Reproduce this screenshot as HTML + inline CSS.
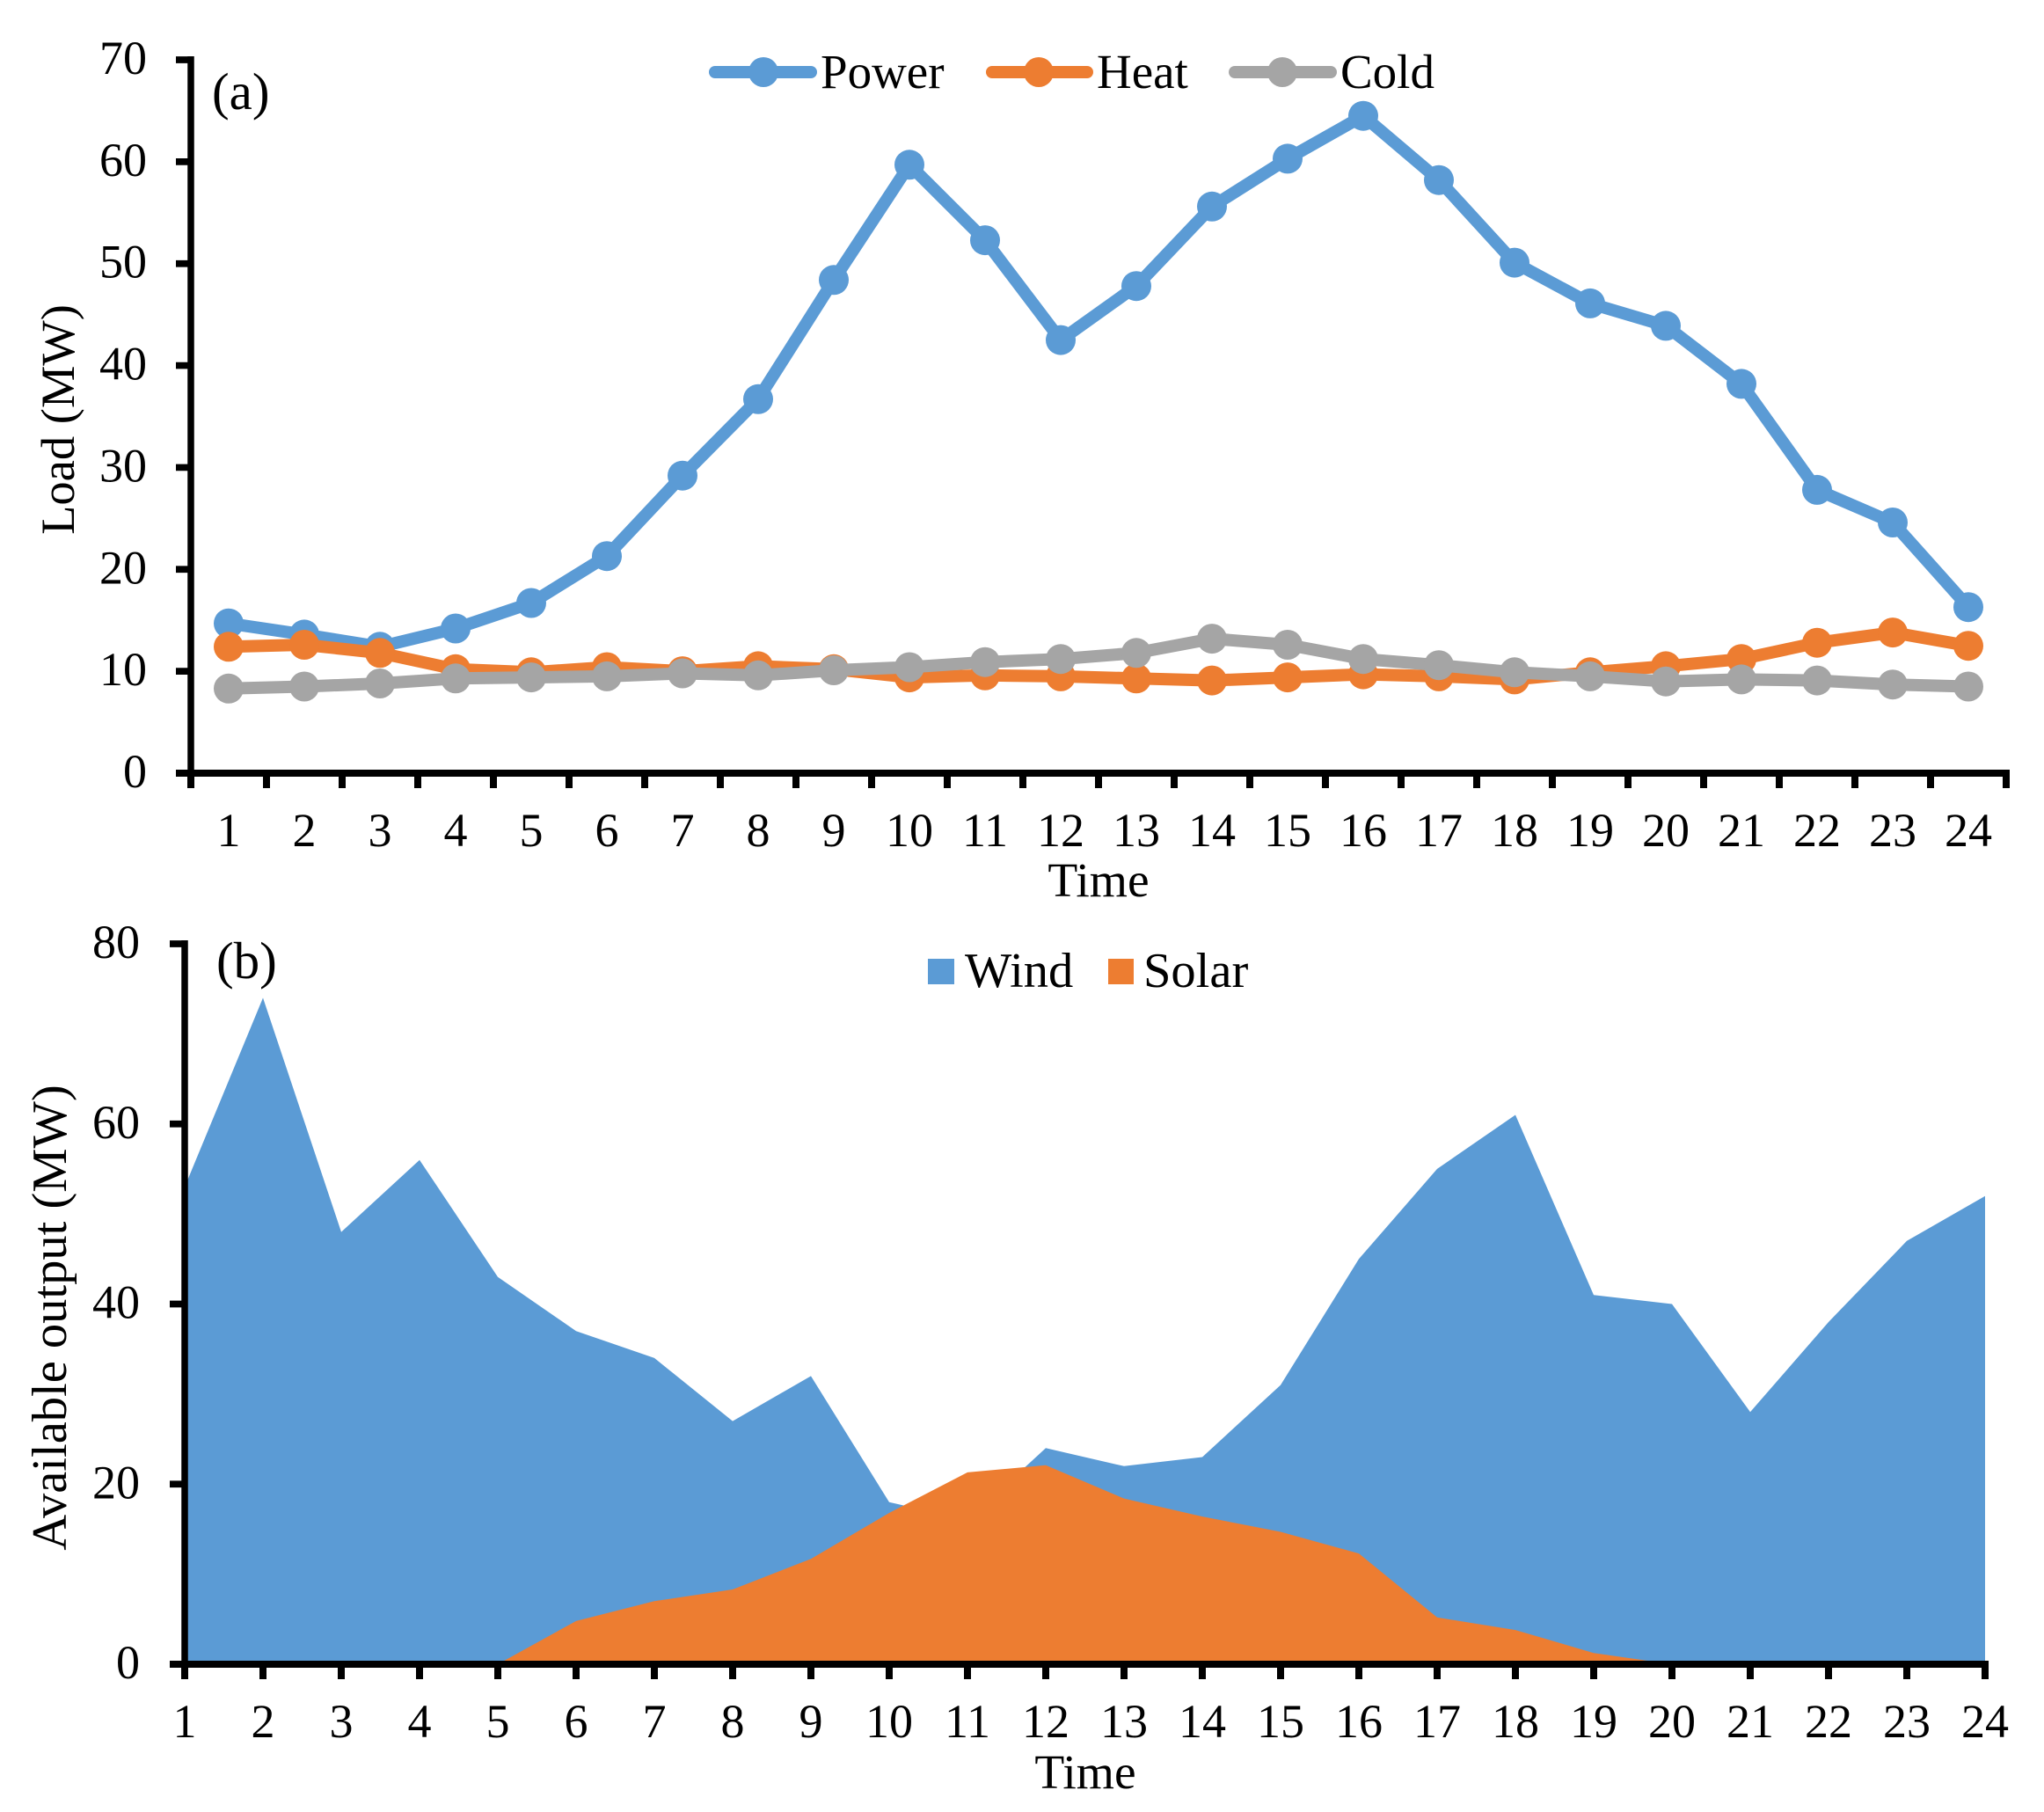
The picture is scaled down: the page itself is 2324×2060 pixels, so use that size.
<!DOCTYPE html>
<html lang="en">
<head>
<meta charset="utf-8">
<title>Load and available output over 24 hours</title>
<style>
  html, body { margin: 0; padding: 0; background: #fff; }
  svg { display: block; }
  text { font-family: "Liberation Serif", "Times New Roman", serif; fill: #000; font-size: 54px; }
</style>
</head>
<body>
<svg id="figure" xmlns="http://www.w3.org/2000/svg" width="2324" height="2060" viewBox="0 0 2324 2060">
  <rect x="0" y="0" width="2324" height="2060" fill="#fff"/>

  <g id="panel-a">
    <g id="a-series"></g>
    <g id="a-axes"></g>
    <text x="241" y="124" style="font-size:59px">(a)</text>
    <text transform="translate(84 477) rotate(-90)" text-anchor="middle" style="font-size:54.5px">Load (MW)</text>
    <text x="1249" y="1019" text-anchor="middle" style="font-size:55.5px">Time</text>
    <g>
      <g>
        <line x1="813" y1="82" x2="922" y2="82" stroke="#5B9BD5" stroke-width="14" stroke-linecap="round"/>
        <circle cx="868" cy="82" r="17" fill="#5B9BD5"/>
        <text x="933" y="100" style="font-size:55px">Power</text>
      </g>
      <g>
        <line x1="1128" y1="82" x2="1236" y2="82" stroke="#ED7D31" stroke-width="14" stroke-linecap="round"/>
        <circle cx="1181" cy="82" r="17" fill="#ED7D31"/>
        <text x="1247" y="100" style="font-size:55px">Heat</text>
      </g>
      <g>
        <line x1="1404" y1="82" x2="1513" y2="82" stroke="#A5A5A5" stroke-width="14" stroke-linecap="round"/>
        <circle cx="1458" cy="82" r="17" fill="#A5A5A5"/>
        <text x="1524" y="100" style="font-size:55px">Cold</text>
      </g>
    </g>
  </g>

  <g id="panel-b">
    <g id="b-series"></g>
    <g id="b-axes"></g>
    <text x="246" y="1112" style="font-size:59px">(b)</text>
    <text transform="translate(75 1498) rotate(-90)" text-anchor="middle" style="font-size:56.5px">Available output (MW)</text>
    <text x="1234" y="2033" text-anchor="middle" style="font-size:55.5px">Time</text>
    <g>
      <g>
        <rect x="1055" y="1090" width="30" height="29" fill="#5B9BD5"/>
        <text x="1097" y="1122" style="font-size:56.5px">Wind</text>
      </g>
      <g>
        <rect x="1260" y="1090" width="29" height="29" fill="#ED7D31"/>
        <text x="1300" y="1122" style="font-size:56.5px">Solar</text>
      </g>
    </g>
  </g>
</svg>

<script>
// ---- Panel (a) data ----
const hoursA = [1,2,3,4,5,6,7,8,9,10,11,12,13,14,15,16,17,18,19,20,21,22,23,24];
const powerLoad = [14.7,13.6,12.4,14.2,16.7,21.3,29.2,36.7,48.4,59.7,52.3,42.5,47.8,55.6,60.3,64.5,58.2,50.1,46.1,43.9,38.2,27.8,24.6,16.3];
const heatLoad = [12.4,12.6,11.8,10.2,9.9,10.4,10.0,10.5,10.2,9.4,9.6,9.5,9.3,9.1,9.4,9.7,9.5,9.2,9.9,10.5,11.2,12.8,13.8,12.5];
const coldLoad = [8.3,8.5,8.8,9.3,9.4,9.5,9.8,9.6,10.1,10.4,10.9,11.2,11.8,13.2,12.6,11.2,10.6,9.9,9.5,9.0,9.2,9.1,8.7,8.5];
const loadTicks = [0,10,20,30,40,50,60,70];

// ---- Panel (b) data ----
const hoursB = [1,2,3,4,5,6,7,8,9,10,11,12,13,14,15,16,17,18,19,20,21,22,23,24];
const windOutput = [53,74,48,56,43,37,34,27,32,18,16,24,22,23,31,45,55,61,41,40,28,38,47,52];
const solarOutput = [0,0,0,0,0,4.8,7,8.3,11.7,16.8,21.3,22.1,18.4,16.4,14.7,12.3,5.2,3.8,1.25,0,0,0,0,0];
const outputTicks = [0,20,40,60,80];

const NS = 'http://www.w3.org/2000/svg';
function make(tag, parent, attrs, txt) {
  const node = document.createElementNS(NS, tag);
  for (const k in attrs) node.setAttribute(k, attrs[k]);
  if (txt !== undefined) node.textContent = txt;
  parent.appendChild(node);
  return node;
}

// ---- Axis functions ----
const aLeft = 217, aRight = 2281, aTop = 68, aBottom = 879, aMax = 70;
const bLeft = 210, bRight = 2257, bTop = 1073, bBottom = 1892, bMax = 80;
const aBand = (aRight - aLeft) / hoursA.length;
const bStep = (bRight - bLeft) / (hoursB.length - 1);
function xA(i) { return aLeft + (i + 0.5) * aBand; }
function yA(v) { return aBottom - v / aMax * (aBottom - aTop); }
function xB(i) { return bLeft + i * bStep; }
function yB(v) { return bBottom - v / bMax * (bBottom - bTop); }

// ---- Panel (a) series ----
const aSeries = document.getElementById('a-series');
function drawLine(values, color, name) {
  const group = make('g', aSeries, {});
  
  
  const pts = values.map((v, i) => xA(i).toFixed(1) + ',' + yA(v).toFixed(1)).join(' ');
  const line = make('polyline', group, { points: pts, fill: 'none', stroke: color, 'stroke-width': 14, 'stroke-linejoin': 'round', 'stroke-linecap': 'round' });
  
  
  values.forEach((v, i) => {
    const dot = make('circle', group, { cx: xA(i).toFixed(1), cy: yA(v).toFixed(1), r: 17, fill: color });
    
    
  });
}
drawLine(powerLoad, '#5B9BD5', 'power');
drawLine(heatLoad, '#ED7D31', 'heat');
drawLine(coldLoad, '#A5A5A5', 'cold');

// ---- Panel (b) series ----
const bSeries = document.getElementById('b-series');
function drawArea(values, color, name) {
  const top = values.map((v, i) => xB(i).toFixed(1) + ',' + yB(v).toFixed(1)).join(' ');
  const pts = xB(0).toFixed(1) + ',' + yB(0).toFixed(1) + ' ' + top + ' ' + xB(values.length - 1).toFixed(1) + ',' + yB(0).toFixed(1);
  const area = make('polygon', bSeries, { points: pts, fill: color });
  
  
}
drawArea(windOutput, '#5B9BD5', 'wind');
drawArea(solarOutput, '#ED7D31', 'solar');

// ---- Axes ----
function drawAxes(host, cfg) {
  const ax = make('line', host, { x1: cfg.left, y1: cfg.top - 4, x2: cfg.left, y2: cfg.bottom + 4, stroke: '#000', 'stroke-width': 7.5 });
  
  
  const bx = make('line', host, { x1: cfg.left - 17, y1: cfg.bottom, x2: cfg.right + 4, y2: cfg.bottom, stroke: '#000', 'stroke-width': 8 });
  
  
  cfg.yTicks.forEach(v => {
    const y = cfg.yScale(v);
    const t = make('line', host, { x1: cfg.left - 17, y1: y, x2: cfg.left, y2: y, stroke: '#000', 'stroke-width': 7.7 });
    
    
    const lab = make('text', host, { x: cfg.yLabelX, y: y + 16, 'text-anchor': 'end' }, String(v));
    
    
  });
  cfg.tickXs.forEach((x, i) => {
    const t = make('line', host, { x1: x, y1: cfg.bottom, x2: x, y2: cfg.bottom + 17, stroke: '#000', 'stroke-width': 8 });
    
    
  });
  cfg.categories.forEach((c, i) => {
    const lab = make('text', host, { x: cfg.labelX(i), y: cfg.xLabelY, 'text-anchor': 'middle' }, String(c));
    
    
  });
}

drawAxes(document.getElementById('a-axes'), {
  left: aLeft, right: aRight, top: aTop, bottom: aBottom,
  yTicks: loadTicks, yScale: yA, yLabelX: 167,
  tickXs: hoursA.map((_, i) => aLeft + i * aBand).concat([aRight]),
  categories: hoursA, labelX: xA, xLabelY: 962
});
drawAxes(document.getElementById('b-axes'), {
  left: bLeft, right: bRight, top: bTop, bottom: bBottom,
  yTicks: outputTicks, yScale: yB, yLabelX: 159,
  tickXs: hoursB.map((_, i) => xB(i)),
  categories: hoursB, labelX: xB, xLabelY: 1975
});
</script>
</body>
</html>
